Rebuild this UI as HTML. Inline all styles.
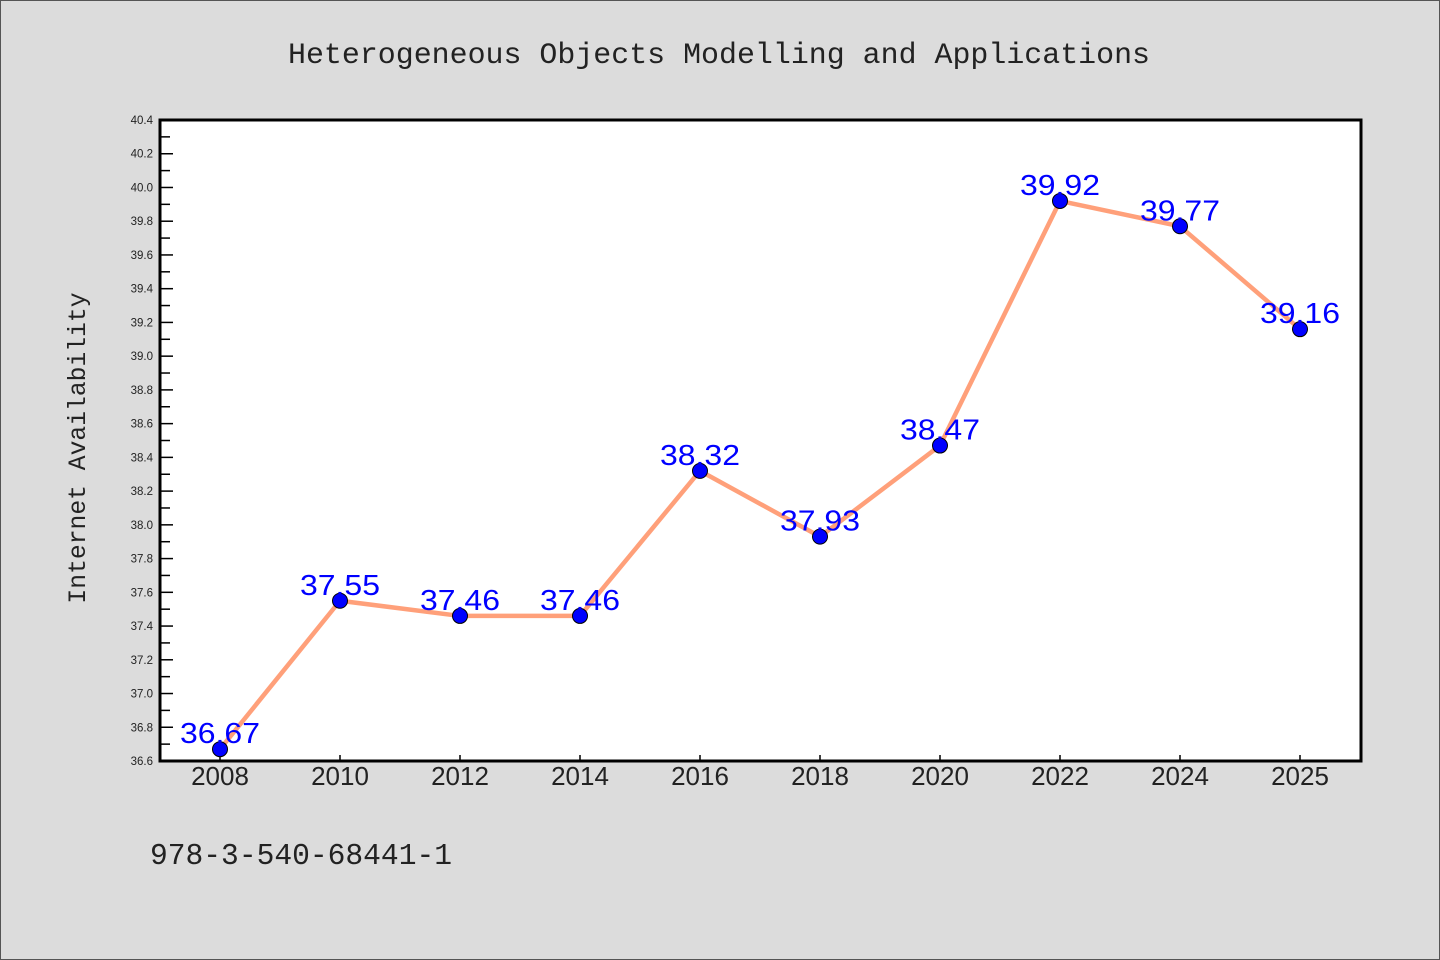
<!DOCTYPE html>
<html><head><meta charset="utf-8"><style>
html,body{margin:0;padding:0;background:#dcdcdc;}
svg{display:block;}
</style></head><body>
<svg id="chart" width="1440" height="960" xmlns="http://www.w3.org/2000/svg">
<rect x="0.5" y="0.5" width="1439" height="959" fill="#dcdcdc" stroke="#555"/>
<text x="288" y="63" textLength="862" lengthAdjust="spacingAndGlyphs" font-family="Liberation Mono, monospace" font-size="30" fill="#222">Heterogeneous Objects Modelling and Applications</text>
<rect x="160" y="120" width="1201" height="641" fill="#fff"/>
<g id="axes"></g>
<g id="marks"></g>
<rect x="160" y="120" width="1201" height="641" fill="none" stroke="#000" stroke-width="3"/>
<text transform="translate(85,448) rotate(-90)" text-anchor="middle" font-family="Liberation Mono, monospace" font-size="24.7" fill="#222">Internet Availability</text>
<text x="150" y="864" textLength="302" lengthAdjust="spacingAndGlyphs" font-family="Liberation Mono, monospace" font-size="31" fill="#222">978-3-540-68441-1</text>
</svg>
<script>
const categories = ["2008","2010","2012","2014","2016","2018","2020","2022","2024","2025"];
const values = [36.67,37.55,37.46,37.46,38.32,37.93,38.47,39.92,39.77,39.16];
const yTicks = ["36.6","36.8","37.0","37.2","37.4","37.6","37.8","38.0","38.2","38.4","38.6","38.8","39.0","39.2","39.4","39.6","39.8","40.0","40.2","40.4"];
const yMin = 36.6, yMax = 40.4;
const NS = "http://www.w3.org/2000/svg";
function y(v){ return 761 - (v - yMin) / (yMax - yMin) * 641; }
function x(i){ return 220 + i * 120; }
function mk(tag, attrs, parent){ const e = document.createElementNS(NS, tag); for (const k in attrs) e.setAttribute(k, attrs[k]); parent.appendChild(e); return e; }
const axes = document.getElementById("axes"), marks = document.getElementById("marks");
yTicks.forEach((t, i) => {
  const v = parseFloat(t), yy = y(v);
  const tk = mk("line", {x1:160, x2:173, y1:yy, y2:yy, stroke:"#000", "stroke-width":1.5}, axes);
  
  
  const lb = mk("text", {x:153, y:yy+4, "text-anchor":"end", "font-family":"Liberation Sans, sans-serif", "font-size":11.5, fill:"#222"}, axes);
  lb.textContent = t;
  
  
  if (i < yTicks.length - 1) {
    const my = y(v + 0.1);
    const mt = mk("line", {x1:160, x2:170, y1:my, y2:my, stroke:"#000", "stroke-width":1.5}, axes);
    
    
  }
});
categories.forEach((c, i) => {
  const tk = mk("line", {x1:x(i), x2:x(i), y1:761, y2:755, stroke:"#000", "stroke-width":1.5}, axes);
  
  
  const lb = mk("text", {x:x(i), y:785, "text-anchor":"middle", "font-family":"Liberation Sans, sans-serif", "font-size":26, fill:"#222"}, axes);
  lb.textContent = c;
  
  
});
const pl = mk("polyline", {points: values.map((v, i) => x(i) + "," + y(v)).join(" "), fill:"none", stroke:"#FFA07A", "stroke-width":4.5, "stroke-linejoin":"round"}, marks);


values.forEach((v, i) => {
  const c = mk("circle", {cx:x(i), cy:y(v), r:7.5, fill:"#0000ff", stroke:"#000", "stroke-width":1}, marks);
  
  
});
values.forEach((v, i) => {
  const t = mk("text", {x:x(i)-40, y:y(v)-6, textLength:80, lengthAdjust:"spacingAndGlyphs", "font-family":"Liberation Sans, sans-serif", "font-size":29, fill:"#0000ff"}, marks);
  t.textContent = v.toFixed(2);
  
  
});
</script>
</body></html>
